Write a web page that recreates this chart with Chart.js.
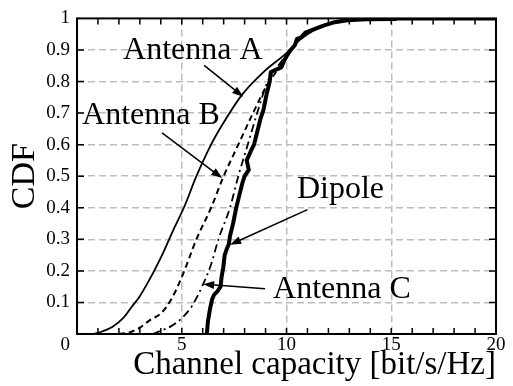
<!DOCTYPE html>
<html>
<head>
<meta charset="utf-8">
<script src="https://cdn.jsdelivr.net/npm/chart.js@4.4.1/dist/chart.umd.min.js"></script>
<style>
  html, body { margin: 0; padding: 0; background: #fff; }
</style>
</head>
<body>
<canvas id="cdfChart" width="513" height="386"></canvas>
<script>
// Channel capacity CDF curves
const antennaAX = [0.8, 1.2, 1.7, 2.2, 2.6, 3.0, 3.4, 3.8, 4.2, 4.6, 5.1, 5.7, 6.4, 7.0, 7.9, 8.9, 10.0, 10.7, 11.3, 12.1, 12.9, 14.0, 15.3, 20];
const antennaAY = [0, 0.008, 0.023, 0.05, 0.085, 0.12, 0.165, 0.215, 0.27, 0.33, 0.4, 0.5, 0.6, 0.67, 0.76, 0.83, 0.89, 0.935, 0.962, 0.984, 0.994, 0.998, 1, 1];

const antennaBX = [2.0, 2.5, 3.0, 3.5, 4.0, 4.5, 5.0, 5.7, 6.4, 7.0, 7.7, 8.4, 9.0, 9.6, 10.2, 10.7, 11.3, 12.1, 12.9, 14.0, 15.3, 20];
const antennaBY = [0, 0.005, 0.02, 0.045, 0.065, 0.11, 0.18, 0.3, 0.4, 0.5, 0.6, 0.7, 0.78, 0.84, 0.9, 0.94, 0.965, 0.985, 0.994, 0.998, 1, 1];

const antennaCX = [3.6, 4.0, 4.5, 5.0, 5.5, 6.0, 6.4, 6.75, 7.3, 7.7, 8.15, 8.6, 9.1, 9.6, 10.2, 10.7, 11.3, 12.1, 12.9, 14.0, 15.3, 20];
const antennaCY = [0, 0.01, 0.025, 0.05, 0.09, 0.155, 0.22, 0.3, 0.4, 0.5, 0.6, 0.7, 0.8, 0.85, 0.9, 0.94, 0.965, 0.985, 0.994, 0.998, 1, 1];

const dipoleX = [6.2, 6.25, 6.35, 6.45, 6.55, 6.7, 6.85, 6.9, 6.98, 7.05, 7.15, 7.25, 7.3, 7.45, 7.6, 7.75, 7.9, 8.0, 8.2, 8.1, 8.3, 8.45, 8.6, 8.75, 8.9, 9.05, 9.2, 9.25, 9.75, 9.85, 10.0, 10.2, 10.4, 10.5, 10.7, 10.9, 11.3, 11.8, 12.3, 12.9, 13.8, 15.2, 15.3, 20];
const dipoleY = [0, 0.04, 0.08, 0.11, 0.125, 0.135, 0.15, 0.18, 0.21, 0.25, 0.27, 0.285, 0.31, 0.35, 0.4, 0.44, 0.48, 0.5, 0.52, 0.55, 0.58, 0.6, 0.64, 0.68, 0.71, 0.76, 0.8, 0.83, 0.845, 0.86, 0.88, 0.9, 0.915, 0.935, 0.94, 0.955, 0.965, 0.978, 0.988, 0.994, 0.997, 0.998, 1, 1];

const xTickValues = [0, 5, 10, 15, 20];
const yTickValues = [0, 0.1, 0.2, 0.3, 0.4, 0.5, 0.6, 0.7, 0.8, 0.9, 1];
const xMinorTicks = [1, 2, 3, 4, 5, 6, 7, 8, 9, 10, 11, 12, 13, 14, 15, 16, 17, 18, 19];
const yMinorTicks = [0.1, 0.2, 0.3, 0.4, 0.5, 0.6, 0.7, 0.8, 0.9];

// callout text + arrow, in data units
const callouts = [
    { text: 'Antenna A', tx: 2.2, ty: 0.87, from: [6.07, 0.851], to: [7.93, 0.752] },
    { text: 'Antenna B', tx: 0.24, ty: 0.665, from: [4.06, 0.637], to: [6.93, 0.494] },
    { text: 'Dipole', tx: 10.5, ty: 0.432, from: [11.0, 0.394], to: [7.31, 0.283] },
    { text: 'Antenna C', tx: 9.36, ty: 0.115, from: [8.98, 0.143], to: [6.02, 0.158] }
];

const serif = "'Liberation Serif', 'Times New Roman', serif";
const gridGrey = '#bdbdbd';

function toPoints(xs, ys) {
    return xs.map((x, i) => ({ x: x, y: ys[i] }));
}

function drawArrow(ctx, x0, y0, x1, y1) {
    const ang = Math.atan2(y1 - y0, x1 - x0);
    const len = 11, half = 4;
    const c = Math.cos(ang), s = Math.sin(ang);
    ctx.beginPath();
    ctx.moveTo(x0, y0);
    ctx.lineTo(x1 - c * len * 0.8, y1 - s * len * 0.8);
    ctx.stroke();
    ctx.beginPath();
    ctx.moveTo(x1, y1);
    ctx.lineTo(x1 - len * c + half * s, y1 - len * s - half * c);
    ctx.lineTo(x1 - len * c - half * s, y1 - len * s + half * c);
    ctx.closePath();
    ctx.fill();
}

const frameAndCallouts = {
    id: 'frameAndCallouts',
    afterDatasetsDraw(chart) {
        const { ctx, chartArea: a, scales: { x, y } } = chart;
        ctx.save();
        ctx.strokeStyle = '#000';
        ctx.fillStyle = '#000';

        // inward tick marks on all four sides
        ctx.lineWidth = 1.5;
        ctx.beginPath();
        xMinorTicks.forEach(v => {
            const px = x.getPixelForValue(v);
            ctx.moveTo(px, a.bottom); ctx.lineTo(px, a.bottom - 6);
            ctx.moveTo(px, a.top); ctx.lineTo(px, a.top + 6);
        });
        yMinorTicks.forEach(v => {
            const py = y.getPixelForValue(v);
            ctx.moveTo(a.left, py); ctx.lineTo(a.left + 7, py);
            ctx.moveTo(a.right, py); ctx.lineTo(a.right - 7, py);
        });
        ctx.stroke();

        // plot frame
        ctx.lineWidth = 2;
        ctx.strokeRect(a.left, a.top, a.right - a.left, a.bottom - a.top);

        // shared origin label
        ctx.font = '19px ' + serif;
        ctx.textAlign = 'right';
        ctx.textBaseline = 'middle';
        ctx.fillText('0', x.getPixelForValue(0) - 7, y.getPixelForValue(0) + 11);

        // curve callouts
        ctx.font = '32px ' + serif;
        ctx.textAlign = 'left';
        ctx.textBaseline = 'alphabetic';
        ctx.lineWidth = 1.5;
        callouts.forEach(c => {
            ctx.fillText(c.text, x.getPixelForValue(c.tx), y.getPixelForValue(c.ty));
            drawArrow(ctx,
                x.getPixelForValue(c.from[0]), y.getPixelForValue(c.from[1]),
                x.getPixelForValue(c.to[0]), y.getPixelForValue(c.to[1]));
        });
        ctx.restore();
    }
};

const cdfCtx = document.getElementById('cdfChart').getContext('2d');
const cdfChart = new Chart(cdfCtx, {
    type: 'scatter',
    data: {
        datasets: [{
            label: 'Antenna A',
            data: toPoints(antennaAX, antennaAY),
            borderColor: '#000',
            borderWidth: 1.8,
            cubicInterpolationMode: 'monotone'
        }, {
            label: 'Antenna B',
            data: toPoints(antennaBX, antennaBY),
            borderColor: '#000',
            borderWidth: 2,
            borderDash: [6, 4],
            cubicInterpolationMode: 'monotone'
        }, {
            label: 'Antenna C',
            data: toPoints(antennaCX, antennaCY),
            borderColor: '#000',
            borderWidth: 1.8,
            borderDash: [8, 4, 2, 4],
            cubicInterpolationMode: 'monotone'
        }, {
            label: 'Dipole',
            data: toPoints(dipoleX, dipoleY),
            borderColor: '#000',
            borderWidth: 4,
            borderJoinStyle: 'round',
            tension: 0
        }]
    },
    options: {
        responsive: false,
        animation: false,
        devicePixelRatio: 1,
        showLine: true,
        elements: { point: { radius: 0, hoverRadius: 0 } },
        layout: { padding: { top: 12, right: 17, bottom: 0, left: 0 } },
        plugins: {
            legend: { display: false },
            tooltip: { enabled: false }
        },
        scales: {
            x: {
                type: 'linear',
                min: 0,
                max: 20,
                afterBuildTicks: s => { s.ticks = xTickValues.map(v => ({ value: v })); },
                afterFit: s => { s.height = 52; },
                grid: {
                    drawTicks: false,
                    lineWidth: 1.5,
                    color: c => (c.tick && c.tick.value > 0 && c.tick.value < 20) ? gridGrey : 'rgba(0,0,0,0)'
                },
                border: { display: false, dash: [7, 4] },
                ticks: {
                    padding: 0,
                    autoSkip: false,
                    maxRotation: 0,
                    color: '#000',
                    font: { family: serif, size: 19, lineHeight: 1.2 },
                    callback: v => v === 0 ? '' : String(v)
                },
                title: {
                    display: true,
                    text: 'Channel capacity [bit/s/Hz]',
                    align: 'end',
                    color: '#000',
                    font: { family: serif, size: 33, lineHeight: 1 },
                    padding: { top: 0, bottom: 4 }
                }
            },
            y: {
                type: 'linear',
                min: 0,
                max: 1,
                afterBuildTicks: s => { s.ticks = yTickValues.map(v => ({ value: v })); },
                afterFit: s => { s.width = 77; },
                grid: {
                    drawTicks: false,
                    lineWidth: 1.5,
                    color: c => (c.tick && c.tick.value > 0.01 && c.tick.value < 0.99) ? gridGrey : 'rgba(0,0,0,0)'
                },
                border: { display: false, dash: [7, 4] },
                ticks: {
                    padding: 7,
                    color: '#000',
                    font: { family: serif, size: 19, lineHeight: 1.2 },
                    callback: v => v === 0 ? '' : String(Math.round(v * 10) / 10)
                },
                title: {
                    display: true,
                    text: 'CDF',
                    color: '#000',
                    font: { family: serif, size: 34, lineHeight: 1 },
                    padding: { top: 8, bottom: 0 }
                }
            }
        }
    },
    plugins: [frameAndCallouts]
});
</script>
</body>
</html>
